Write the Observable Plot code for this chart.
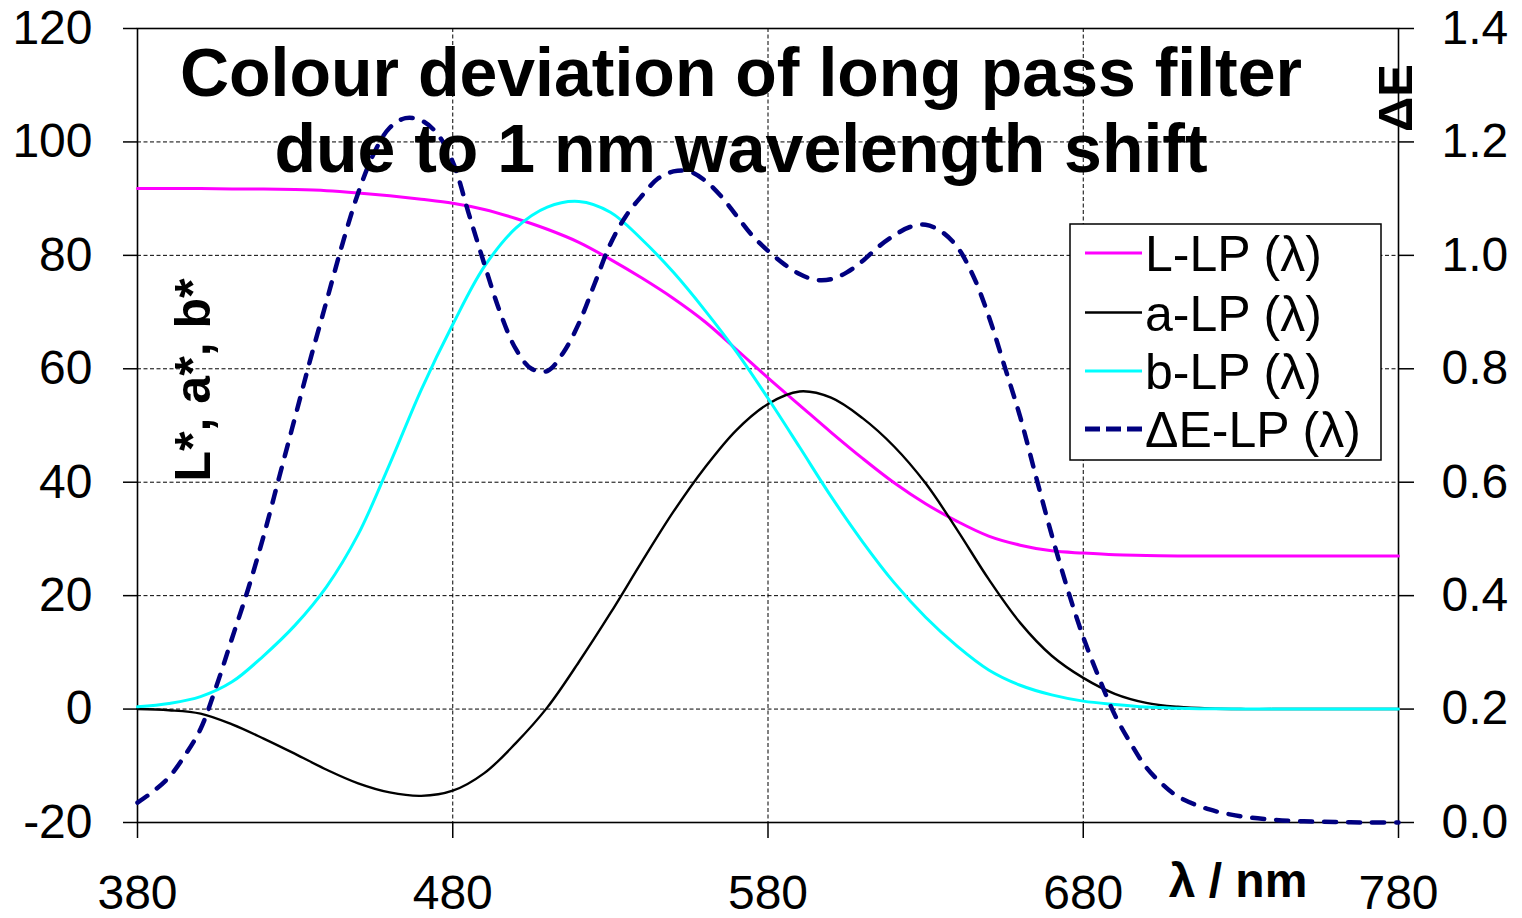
<!DOCTYPE html>
<html>
<head>
<meta charset="utf-8">
<script src="https://cdn.jsdelivr.net/npm/d3@7"></script>
<script src="https://cdn.jsdelivr.net/npm/@observablehq/plot@0.6"></script>
<style>
  body { margin: 0; background: #fff; }
  #wrap { position: relative; width: 1522px; height: 918px; font-family: "Liberation Sans", Arial, sans-serif; }
  #wrap svg { position: absolute; left: 0; top: 0; }
</style>
</head>
<body>
<div id="wrap"></div>
<script>
// ---- data ----
const wavelengths = [380,390,400,410,420,430,440,450,460,470,480,490,500,510,520,530,540,550,560,570,580,590,600,610,620,630,640,650,660,670,680,690,700,710,720,730,740,750,760,770,780];
const Lstar = [91.8,91.8,91.8,91.7,91.7,91.6,91.4,91.0,90.5,89.9,89.2, 88.1,86.5,84.6,82.3,79.3,76.0,72.4,68.3,63.4,58.4, 53.6,48.8,44.2,39.9,36.2,33.1,30.5,28.9,27.9,27.5, 27.2,27.1,27.0,27.0,27.0,27.0,27.0,27.0,27.0,27.0];
const astar = [0,-0.2,-0.8,-2.7,-5.2,-7.9,-10.7,-13.1,-14.7,-15.3,-14.4, -11.3,-6.0,0.3,8.3,16.9,26.0,34.8,42.6,49.2,53.8, 56.0,54.9,51.3,46.3,39.8,31.6,22.9,15.2,9.4,5.5, 2.7,1.1,0.4,0.1,0,0,0,0,0,0];
const bstar = [0.4,1.0,2.2,4.8,9.4,14.8,21.6,30.8,43.2,56.3,67.8, 78.0,84.8,88.5,89.5,87.6,82.8,77.0,70.3,63.0,54.8, 46.2,37.5,29.5,22.3,16.2,11.1,6.9,4.2,2.5,1.4, 0.8,0.35,0.15,0.05,0,0,0,0,0,0];
const dEwavelengths = [380,385,390,395,400,405,410,415,420,425,430,435,440,445,450,455,460,465,470,475,480,485,490,495,500,505,510,515,520,525,530,535,540,545,550,555,560,565,570,575,580,585,590,595,600,605,610,615,620,625,630,635,640,645,650,655,660,665,670,675,680,685,690,695,700,705,710,720,730,740,750,760,770,780];
const deltaE = [0.035,0.055,0.08,0.118,0.165,0.24,0.325,0.41,0.505,0.61,
  0.715,0.82,0.92,1.02,1.11,1.18,1.225,1.242,1.238,1.215,
  1.165,1.075,0.985,0.9,0.835,0.80,0.796,0.828,0.88,0.95,
  1.02,1.07,1.105,1.135,1.148,1.148,1.132,1.105,1.07,1.035,
  1.008,0.985,0.967,0.957,0.958,0.97,0.99,1.015,1.035,1.05,
  1.054,1.042,1.015,0.965,0.893,0.805,0.715,0.61,0.507,0.412,
  0.327,0.255,0.19,0.14,0.097,0.068,0.046,
  0.023,0.011,0.005,0.002,0.001,0,0];
const xTicks = [380,480,580,680,780];
const yTicks = [-20,0,20,40,60,80,100,120];
const seriesNames = ["L-LP (λ)","a-LP (λ)","b-LP (λ)","ΔE-LP (λ)"];
const seriesColors = ["#ff00ff","#000000","#00ffff","#000080"];

// ΔE is on the secondary axis: 0..1.4 maps onto -20..120
const dEtoLeft = v => v * 100 - 20;
const leftTodE = v => (v + 20) / 100;

const lab = [];
wavelengths.forEach((w, i) => {
  lab.push({w, v: Lstar[i], s: "L"});
  lab.push({w, v: astar[i], s: "a"});
  lab.push({w, v: bstar[i], s: "b"});
});
const dEdata = dEwavelengths.map((w, i) => ({w, v: dEtoLeft(deltaE[i])}));

const plot = Plot.plot({
  width: 1522,
  height: 918,
  marginLeft: 137,
  marginRight: 124,
  marginTop: 28,
  marginBottom: 96,
  style: {fontFamily: "'Liberation Sans', Arial, sans-serif", color: "#000", background: "transparent", overflow: "visible"},
  x: {domain: [380, 780]},
  y: {domain: [-20, 120]},
  marks: [
    Plot.gridY(yTicks, {stroke: "#000", strokeOpacity: 1, strokeWidth: 1, strokeDasharray: "4,2.5"}),
    Plot.gridX(xTicks, {stroke: "#000", strokeOpacity: 1, strokeWidth: 1, strokeDasharray: "4,2.5"}),
    Plot.frame({stroke: "#000", strokeWidth: 1.6}),
    Plot.axisX(xTicks, {anchor: "bottom", tickSize: 16, tickPadding: 36, fontSize: 48, strokeWidth: 1.5, label: null,
      tickFormat: d => String(d)}),
    Plot.axisY(yTicks, {anchor: "left", tickSize: 14, tickPadding: 31, fontSize: 48, strokeWidth: 1.5, label: null,
      tickFormat: d => String(d)}),
    Plot.axisY(yTicks, {anchor: "right", tickSize: 15, tickPadding: 28, fontSize: 48, strokeWidth: 1.5, label: null,
      tickFormat: v => leftTodE(v).toFixed(1)}),
    Plot.line(lab.filter(d => d.s === "L"), {x: "w", y: "v", stroke: seriesColors[0], strokeWidth: 3, curve: "catmull-rom"}),
    Plot.line(lab.filter(d => d.s === "a"), {x: "w", y: "v", stroke: seriesColors[1], strokeWidth: 2.4, curve: "catmull-rom"}),
    Plot.line(lab.filter(d => d.s === "b"), {x: "w", y: "v", stroke: seriesColors[2], strokeWidth: 3, curve: "catmull-rom"}),
    Plot.line(dEdata, {x: "w", y: "v", stroke: seriesColors[3], strokeWidth: 4.5, strokeDasharray: "12,12",
      strokeLinecap: "round", curve: "catmull-rom"})
  ]
});
document.getElementById("wrap").appendChild(plot);

// ---- overlay: title, axis titles, legend ----
const NS = "http://www.w3.org/2000/svg";
const ov = document.createElementNS(NS, "svg");
ov.setAttribute("width", 1522);
ov.setAttribute("height", 918);
ov.setAttribute("font-family", "'Liberation Sans', Arial, sans-serif");
function el(tag, attrs, text) {
  const e = document.createElementNS(NS, tag);
  for (const k in attrs) e.setAttribute(k, attrs[k]);
  if (text != null) e.textContent = text;
  ov.appendChild(e);
  return e;
}
const titleLines = ["Colour deviation of long pass filter", "due to 1 nm wavelength shift"];
el("text", {x: 741, y: 96, "text-anchor": "middle", "font-size": 68, "font-weight": "bold"}, titleLines[0]);
el("text", {x: 741, y: 172, "text-anchor": "middle", "font-size": 68, "font-weight": "bold"}, titleLines[1]);
el("text", {x: 1238, y: 897, "text-anchor": "middle", "font-size": 48, "font-weight": "bold"}, "λ / nm");
el("text", {transform: "translate(210,380) rotate(-90)", "text-anchor": "middle", "font-size": 50, "font-weight": "bold"}, "L*, a*, b*");
el("text", {transform: "translate(1412,98) rotate(-90)", "text-anchor": "middle", "font-size": 49, "font-weight": "bold"}, "ΔE");

// legend
el("rect", {x: 1070, y: 224, width: 311, height: 236, fill: "#fff", stroke: "#000", "stroke-width": 1.5});
const rowY = [253, 312.5, 371, 429];
const rowW = [3, 2.4, 3, 5];
seriesNames.forEach((name, i) => {
  const line = el("line", {x1: 1085, x2: 1142, y1: rowY[i], y2: rowY[i], stroke: seriesColors[i], "stroke-width": rowW[i]});
  if (i === 3) line.setAttribute("stroke-dasharray", "15,6");
  el("text", {x: 1145, y: rowY[i] + 18, "font-size": 50}, name);
});
document.getElementById("wrap").appendChild(ov);
</script>
</body>
</html>
